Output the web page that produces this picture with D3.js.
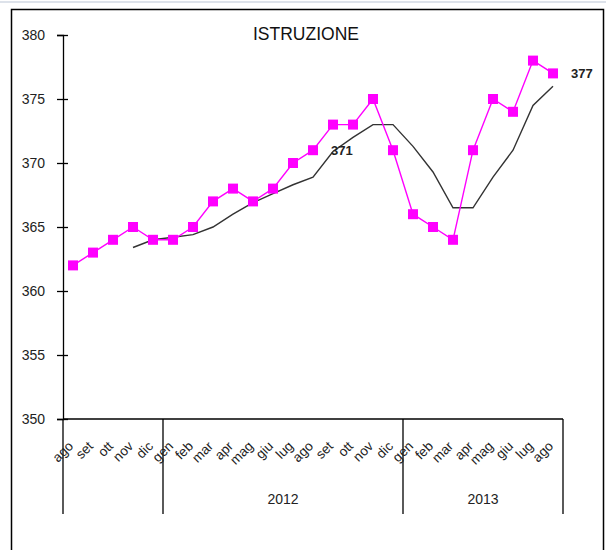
<!DOCTYPE html>
<html>
<head>
<meta charset="utf-8">
<script src="https://cdn.jsdelivr.net/npm/d3@7"></script>
<style>
  body { margin: 0; background: #fff; }
  text { font-family: "Liberation Sans", Arial, sans-serif; }
</style>
</head>
<body>
<div id="chart"></div>
<script>
// Data
const months = ["ago","set","ott","nov","dic",
  "gen","feb","mar","apr","mag","giu","lug","ago","set","ott","nov","dic",
  "gen","feb","mar","apr","mag","giu","lug","ago"];
const years = [
  {label: "", start: 0, end: 5},
  {label: "2012", start: 5, end: 17},
  {label: "2013", start: 17, end: 25}
];
const values = [362,363,364,365,364,
  364,365,367,368,367,368,370,371,373,373,375,371,
  366,365,364,371,375,374,378,377];
const trend = [null,null,null,363.4,364,
  364.2,364.4,365,366,366.9,367.6,368.3,368.9,370.9,372,373,373,
  371.3,369.3,366.5,366.5,368.9,371,374.5,376];
const yTicks = [350,355,360,365,370,375,380];
const labelled = [12, 24];

const W = 606, H = 550;
const svg = d3.select("#chart").append("svg")
  .attr("width", W).attr("height", H);

// top strip + frame
svg.append("line").attr("x1", 0).attr("x2", W).attr("y1", 2).attr("y2", 2)
  .attr("stroke", "#dde2ea").attr("stroke-width", 2);
svg.append("rect").attr("x", 11.5).attr("y", 9.5).attr("width", 592).attr("height", 560)
  .attr("fill", "none").attr("stroke", "#000").attr("stroke-width", 1.5);

const idx = d3.range(months.length);
const x = d3.scaleBand().domain(idx).range([63, 563]);
const cx = i => x(i) + x.bandwidth() / 2;
const y = d3.scaleLinear().domain([350, 380]).range([419, 35]);

// title
svg.append("text").attr("x", 306).attr("y", 40).attr("text-anchor", "middle")
  .attr("font-size", 17.5).attr("fill", "#111").text("ISTRUZIONE");

// y axis
const yAxis = svg.append("g").attr("transform", "translate(63,0)")
  .call(d3.axisLeft(y).tickValues(yTicks).tickSize(6).tickPadding(12));
yAxis.select(".domain").attr("stroke", "#000").attr("stroke-width", 1.3);
yAxis.selectAll(".tick line").attr("x2", 5).attr("x1", -6).attr("stroke-width", 1.3);
yAxis.selectAll(".tick text").attr("font-size", 14).attr("fill", "#222")
  .style("font-family", "Liberation Sans, Arial, sans-serif");

// x axis line
svg.append("line").attr("x1", 63).attr("x2", 563).attr("y1", y(350)).attr("y2", y(350))
  .attr("stroke", "#000").attr("stroke-width", 1.3);

// group boundaries
const bounds = [0, 5, 17, 25];
svg.selectAll(".bnd").data(bounds).join("line")
  .attr("x1", d => x.step() * d + 63).attr("x2", d => x.step() * d + 63)
  .attr("y1", y(350)).attr("y2", 514)
  .attr("stroke", "#000").attr("stroke-width", 1.3);

// month labels
svg.selectAll(".mlab").data(idx).join("text")
  .attr("transform", i => `translate(${cx(i) + 1},${y(350) + 28}) rotate(-45)`)
  .attr("text-anchor", "end").attr("font-size", 13.5).attr("fill", "#222")
  .text(i => months[i]);

// year labels
svg.selectAll(".ylab").data(years).join("text")
  .attr("x", d => (x.step() * d.start + x.step() * d.end) / 2 + 63)
  .attr("y", 504).attr("text-anchor", "middle")
  .attr("font-size", 14).attr("fill", "#222").text(d => d.label);

// trend line
const tl = d3.line().defined(i => trend[i] != null).x(cx).y(i => y(trend[i]));
svg.append("path").attr("d", tl(idx)).attr("fill", "none")
  .attr("stroke", "#333").attr("stroke-width", 1.4);

// main series
const ml = d3.line().x(cx).y(i => y(values[i]));
svg.append("path").attr("d", ml(idx)).attr("fill", "none")
  .attr("stroke", "#ff00ff").attr("stroke-width", 1.4);
svg.selectAll(".pt").data(idx).join("rect")
  .attr("x", i => cx(i) - 5).attr("y", i => y(values[i]) - 5)
  .attr("width", 10).attr("height", 10).attr("fill", "#ff00ff");

// data labels
svg.selectAll(".dl").data(labelled).join("text")
  .attr("x", i => cx(i) + 18).attr("y", i => y(values[i]) + 5)
  .attr("font-size", 13).attr("font-weight", "bold").attr("fill", "#222")
  .text(i => values[i]);
</script>
</body>
</html>
